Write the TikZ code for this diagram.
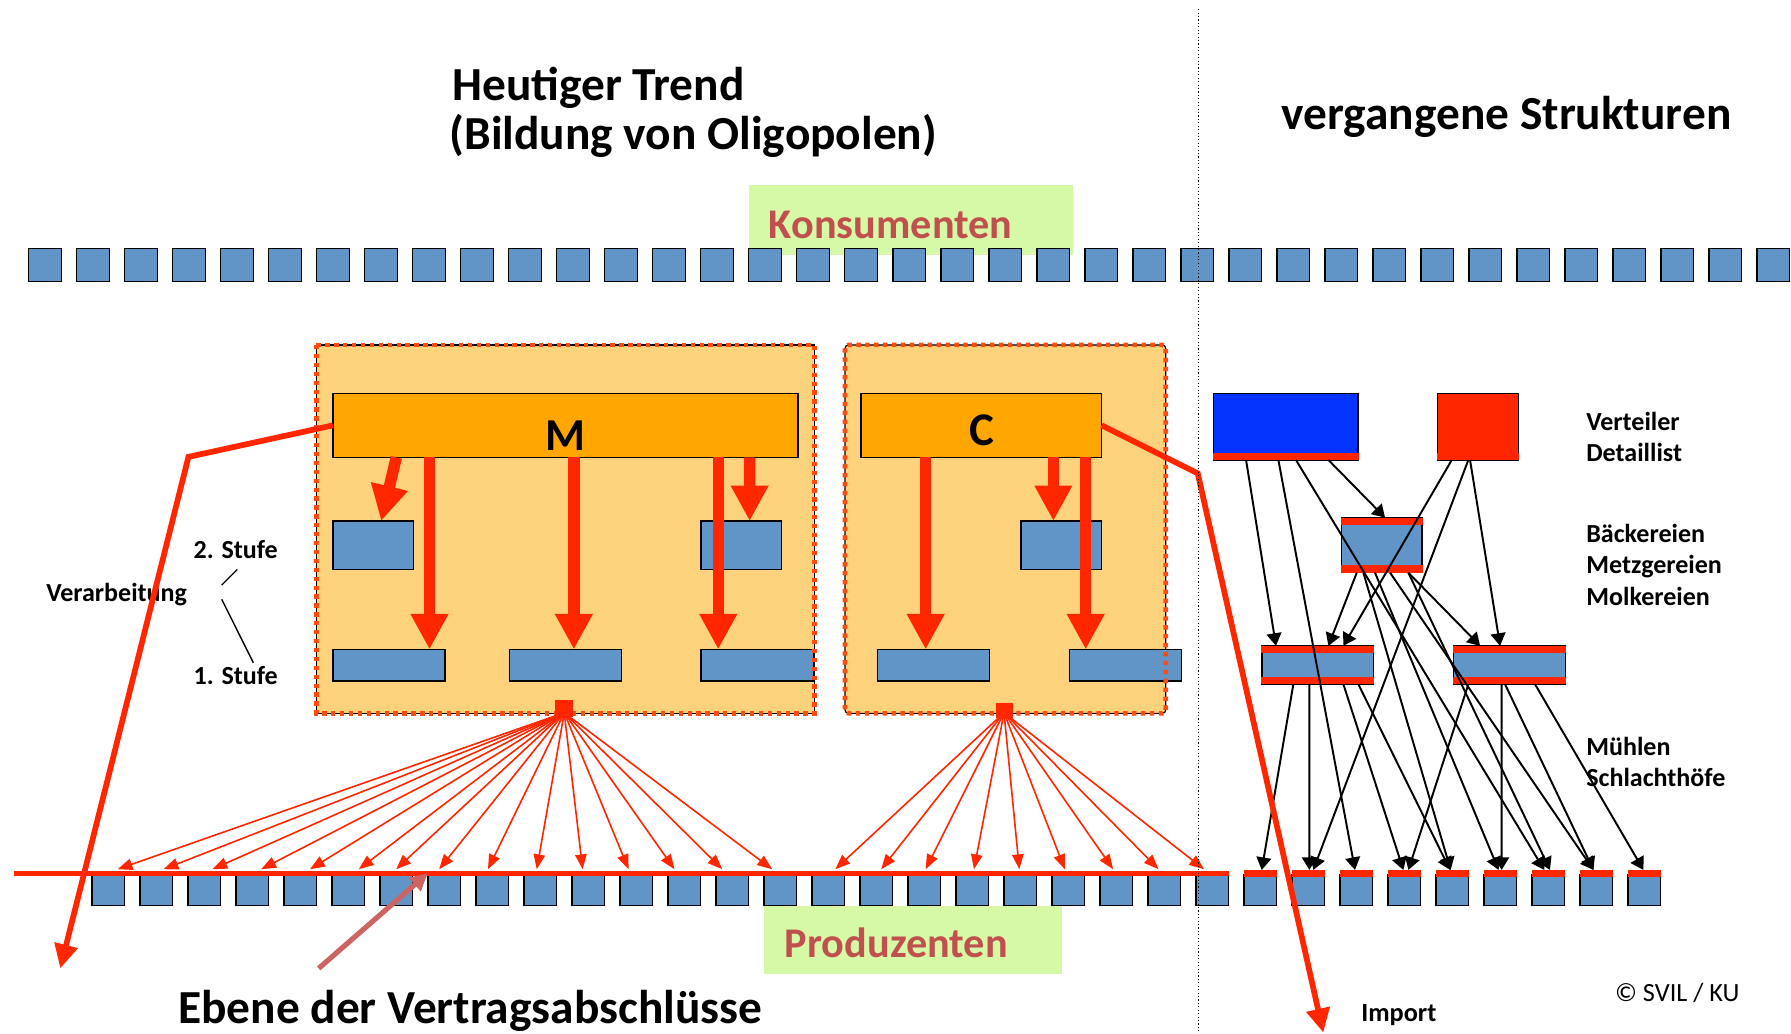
\documentclass[tikz,border=0pt]{standalone}
\usepackage{fontspec}
\setmainfont{Carlito}
\usetikzlibrary{arrows.meta}
\definecolor{boxblue}{HTML}{6195C8}
\definecolor{myred}{HTML}{FF2600}
\definecolor{barorange}{HTML}{FFA600}
\definecolor{lightorange}{HTML}{FDD27C}
\definecolor{dashcol}{HTML}{FF4A10}
\definecolor{lightgreen}{HTML}{D6F9A8}
\definecolor{textred}{HTML}{C0504D}
\definecolor{pinkarrow}{HTML}{CD6464}
\definecolor{deepblue}{HTML}{0433FF}
\begin{document}
\begin{tikzpicture}[x=1pt,y=-1pt,
  sq/.style={draw=black, line width=1.2pt, fill=boxblue, minimum width=28.6pt, minimum height=27pt, inner sep=0pt, outer sep=0pt},
  topsq/.style={sq, minimum height=29.2pt},
  redbar/.style={fill=myred, minimum width=28.6pt, minimum height=6.4pt, inner sep=0pt, outer sep=0pt},
  bluebox/.style={draw=black, line width=1.2pt, fill=boxblue, inner sep=0pt, outer sep=0pt},
  obar/.style={draw=black, line width=1.2pt, fill=barorange, inner sep=0pt, outer sep=0pt},
  outer/.style={draw=black, line width=1pt, fill=lightorange, inner sep=0pt, outer sep=0pt},
  greenbox/.style={fill=lightgreen, inner sep=0pt, outer sep=0pt},
  lbl/.style={inner sep=0pt, anchor=base west, font=\bfseries\fontsize{22.8}{27}\selectfont},
  title/.style={inner sep=0pt, anchor=base west, font=\bfseries\fontsize{41.5}{48}\selectfont},
  big/.style={inner sep=0pt, anchor=base west, font=\bfseries\fontsize{37}{44}\selectfont},
  redline/.style={draw=myred, line width=5pt, line join=miter},
  redtip/.style={-{Triangle[length=21pt,width=20pt]}},
  thickarrow/.style={draw=myred, line width=10pt, -{Triangle[length=31pt,width=31pt]}},
  fanarrow/.style={draw=myred, line width=1.4pt, -{Triangle[length=13pt,width=10pt]}},
  blackarrow/.style={draw=black, line width=1.7pt, -{Triangle[length=11pt,width=13pt]}},
  thinline/.style={draw=black, line width=1.2pt}
]
\useasboundingbox (0,0) rectangle (1568,905);
\fill[white] (0,0) rectangle (1568,905);

% green label boxes
\node[greenbox, minimum width=283pt, minimum height=61pt] (KB) at (797.5,192.5) {};
\node[greenbox, minimum width=261pt, minimum height=60pt] (PB) at (799.5,823) {};
\node[big, text=textred] (konsu) at (673,209) {Konsumenten};
\node[big, text=textred] (produ) at (687,838) {Produzenten};

% top squares
\foreach \i in {0,...,36} \node[topsq] (t\i) at ({39.4+\i*42.03},232) {};

% outer boxes
\node[outer, minimum width=436pt, minimum height=322.5pt] (Mbox) at (495,463.25) {};
\node[outer, rounded corners=3pt, minimum width=280.8pt, minimum height=322.5pt] (Cbox) at (880.2,463.25) {};

% bars
\node[obar, minimum width=407.1pt, minimum height=56pt] (Mbar) at (495.05,372.4) {};
\node[obar, minimum width=210.7pt, minimum height=56pt] (Cbar) at (859.15,372.4) {};
\node[inner sep=0pt, anchor=base, font=\bfseries\fontsize{40}{48}\selectfont] (Mlab) at (495,394.5) {M};
\node[inner sep=0pt, anchor=base, font=\bfseries\fontsize{41}{48}\selectfont] (Clab) at (859.5,389.6) {C};

% inner blue boxes
\node[bluebox, minimum width=70.5pt, minimum height=42.4pt] (M2L) at (326.75,477.3) {};
\node[bluebox, minimum width=70.7pt, minimum height=42.4pt] (M2R) at (649.05,477.3) {};
\node[bluebox, minimum width=98.1pt, minimum height=27.7pt] (M1a) at (340.55,582.35) {};
\node[bluebox, minimum width=98pt, minimum height=27.7pt] (M1b) at (495,582.35) {};
\node[bluebox, minimum width=98.9pt, minimum height=27.7pt] (M1c) at (663.15,582.35) {};
\node[bluebox, minimum width=70.6pt, minimum height=42.4pt] (C2) at (929.2,477.3) {};
\node[bluebox, minimum width=98.4pt, minimum height=27.7pt] (C1a) at (817.3,582.35) {};
\node[bluebox, minimum width=98.4pt, minimum height=27.7pt] (C1b) at (985.4,582.35) {};

% thick arrows inside
\draw[thickarrow] ([xshift=55.5pt]Mbar.south west) -- ([xshift=42.2pt]M2L.north west);
\draw[thickarrow] ([xshift=84.5pt]Mbar.south west) -- ([xshift=84.5pt]M1a.north west);
\draw[thickarrow] ([xshift=210.9pt]Mbar.south west) -- ([xshift=56.4pt]M1b.north west);
\draw[thickarrow] ([xshift=337.3pt]Mbar.south west) -- ([xshift=15.1pt]M1c.north west);
\draw[thickarrow] ([xshift=364.8pt]Mbar.south west) -- ([xshift=42.6pt]M2R.north west);
\draw[thickarrow] ([xshift=56.6pt]Cbar.south west) -- ([xshift=42.3pt]C1a.north west);
\draw[thickarrow] ([xshift=168.4pt]Cbar.south west) -- ([xshift=28.3pt]C2.north west);
\draw[thickarrow] ([xshift=196.7pt]Cbar.south west) -- ([xshift=14.3pt]C1b.north west);

% dashed borders
\draw[dashcol, line width=4pt, dash pattern=on 3.8pt off 4pt] (Mbox.north west) rectangle (Mbox.south east);
\draw[dashcol, line width=4pt, dash pattern=on 3.8pt off 4pt, rounded corners=3pt] (Cbox.north west) rectangle (Cbox.south east);

% fans
\coordinate (fanM) at (494,624);
\coordinate (fanC) at (879,624);
\foreach \x [count=\k] in {103,143.2,186,228.7,271.4,314.1,346.8,384.5,427.2,469.9,510.1,550.3,590.5,632.3,676}{
  \coordinate (fmt\k) at (\x,761);
  \draw[fanarrow] (fanM) -- (fmt\k);
}
\foreach \x [count=\k] in {731.3,771.5,810.4,852.7,892.4,932.2,974.5,1014.3,1054.1}{
  \coordinate (fct\k) at (\x,761);
  \draw[fanarrow] (fanC) -- (fct\k);
}
\node[fill=myred, minimum width=16pt, minimum height=15pt, inner sep=0pt] (fanMsq) at (494,620.5) {};
\node[fill=myred, minimum width=15pt, minimum height=13pt, inner sep=0pt] (fanCsq) at (879.2,622) {};

% bottom squares
\foreach \i in {0,...,32} \node[sq] (b\i) at ({94.7+\i*42.03},779.5) {};
\foreach \i in {24,...,32} \node[redbar] (rb\i) at ({94.7+\i*42.03},764.8) {};

% contract level line
\coordinate (hl1) at (12.6,765);
\coordinate (hl2) at (1076,765);
\draw[draw=myred, line width=4.7pt] (hl1) -- (hl2);

% right side structures
\node[draw=black, line width=1.2pt, fill=deepblue, minimum width=126.5pt, minimum height=58.3pt, inner sep=0pt, outer sep=0pt] (BR) at (1125.75,373.55) {};
\node[draw=black, line width=1.2pt, fill=myred, minimum width=70.8pt, minimum height=58.3pt, inner sep=0pt, outer sep=0pt] (RS) at (1293.9,373.55) {};
\node[bluebox, minimum width=70.2pt, minimum height=48.2pt] (BK) at (1209.7,477.3) {};
\node[bluebox, minimum width=97.8pt, minimum height=33.6pt] (ML) at (1153.6,582.2) {};
\node[bluebox, minimum width=98.3pt, minimum height=33.6pt] (MR) at (1321.65,582.2) {};
\fill[myred] ([xshift=-0.6pt]BR.south west) rectangle ([xshift=0.6pt,yshift=6pt]BR.south east);
\fill[myred] ([xshift=-0.6pt]RS.south west) rectangle ([xshift=0.6pt,yshift=6pt]RS.south east);
\foreach \n in {BK,ML,MR}{
  \fill[myred] ([xshift=-0.6pt]\n.north west) rectangle ([xshift=0.6pt,yshift=-6.4pt]\n.north east);
  \fill[myred] ([xshift=-0.6pt]\n.south west) rectangle ([xshift=0.6pt,yshift=6.4pt]\n.south east);
}

% black arrows
\draw[blackarrow] ([xshift=28.4pt]BR.south west) -- ([xshift=12.4pt]ML.north west);
\draw[blackarrow] ([xshift=56.7pt]BR.south west) -- ([xshift=-1.2pt]rb26.north);
\draw[blackarrow] ([xshift=72.1pt]BR.south west) -- ([xshift=-3.6pt]rb30.north);
\draw[blackarrow] ([xshift=100.5pt]BR.south west) -- ([xshift=38pt]BK.north west);
\draw[blackarrow] ([xshift=12.5pt]RS.south west) -- ([xshift=71.4pt]ML.north west);
\draw[blackarrow] ([xshift=27pt]RS.south west) -- ([xshift=4.3pt]rb25.north);
\draw[blackarrow] ([xshift=28.5pt]RS.south west) -- ([xshift=40.8pt]MR.north west);
\draw[blackarrow] ([xshift=13.2pt]BK.south west) -- ([xshift=58.3pt]ML.north west);
\draw[blackarrow] ([xshift=19pt]BK.south west) -- ([xshift=-1.5pt]rb28.north);
\draw[blackarrow] ([xshift=29.2pt]BK.south west) -- ([xshift=-1.6pt]rb29.north);
\draw[blackarrow] ([xshift=42.4pt]BK.south west) -- ([xshift=-2.6pt]rb31.north);
\draw[blackarrow] ([xshift=58.4pt]BK.south west) -- ([xshift=23.3pt]MR.north west);
\draw[blackarrow] ([xshift=58.4pt]BK.south west) -- ([xshift=1.4pt]rb30.north);
\draw[blackarrow] ([xshift=27.6pt]ML.south west) -- ([xshift=1.2pt]rb24.north);
\draw[blackarrow] ([xshift=41.6pt]ML.south west) -- ([xshift=0.85pt]rb25.north);
\draw[blackarrow] ([xshift=71.4pt]ML.south west) -- ([xshift=-0.9pt]rb27.north);
\draw[blackarrow] ([xshift=84.5pt]ML.south west) -- ([xshift=-2pt]rb28.north);
\draw[blackarrow] ([xshift=13pt]MR.south west) -- ([xshift=3.5pt]rb27.north);
\draw[blackarrow] ([xshift=42.2pt]MR.south west) -- ([xshift=1.1pt]rb29.north);
\draw[blackarrow] ([xshift=45.1pt]MR.south west) -- ([xshift=-2.6pt]rb31.north);
\draw[blackarrow] ([xshift=71.4pt]MR.south west) -- ([xshift=-0.9pt]rb32.north);

% texts
\node[title] (t1) at (395.8,87.6) {Heutiger Trend};
\node[title] (t2) at (393.5,131.3) {(Bildung von Oligopolen)};
\node[title] (t3) at (1122,113) {vergangene Strukturen};
\node[big, font=\bfseries\fontsize{41.5}{48}\selectfont] (ebene) at (155.8,896) {Ebene der Vertragsabschlüsse};
\node[lbl] (verteiler) at (1388.6,376.5) {Verteiler};
\node[lbl] (detail) at (1388.6,404.2) {Detaillist};
\node[lbl] (baeck) at (1388.6,474.8) {Bäckereien};
\node[lbl] (metzg) at (1388.6,502.5) {Metzgereien};
\node[lbl] (molk) at (1388.6,530.4) {Molkereien};
\node[lbl] (muehl) at (1388.6,661) {Mühlen};
\node[lbl] (schl) at (1388.6,688.7) {Schlachthöfe};
\node[lbl] (stufe2) at (169.3,488.8) {2. Stufe};
\node[lbl] (verarb) at (40.3,526.8) {Verarbeitung};
\node[lbl] (stufe1) at (169.3,599.7) {1. Stufe};
\node[lbl, font=\bfseries\fontsize{23}{27}\selectfont] (import) at (1191.6,894.5) {Import};
\node[inner sep=0pt, anchor=base west, font=\fontsize{23}{27}\selectfont] (copy) at (1413.8,877) {© SVIL / KU};

% Stufe connector lines
\coordinate (s2a) at (207.8,498.5);
\coordinate (s2b) at (194.1,512.2);
\coordinate (s1a) at (194.1,524.7);
\coordinate (s1b) at (221.8,580.2);
\draw[thinline] (s2a) -- (s2b);
\draw[thinline] (s1a) -- (s1b);

% thick red lines
\coordinate (lk) at (165,400);
\coordinate (lend) at (52.8,847.8);
\draw[redline, redtip] (Mbar.west) -- (lk) -- (lend);
\coordinate (rk) at (1048.6,414.4);
\coordinate (rend) at (1158.5,904);
\draw[redline, redtip] (Cbar.east) -- (rk) -- (rend);

% pink arrow
\coordinate (pa) at (279,847.8);
\coordinate (pb) at (374.4,764.6);
\draw[draw=pinkarrow, line width=4.5pt, -{Triangle[length=15pt,width=15pt]}] (pa) -- (pb);

% dotted divider
\coordinate (d1) at (1049,8);
\coordinate (d2) at (1049,905);
\draw[black, line width=1pt, dotted] (d1) -- (d2);
\end{tikzpicture}
\end{document}
